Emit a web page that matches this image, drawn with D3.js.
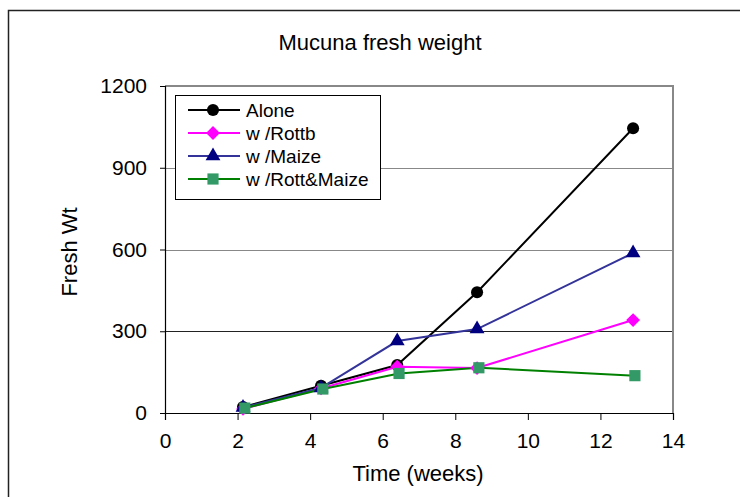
<!DOCTYPE html>
<html><head><meta charset="utf-8">
<script src="https://cdn.jsdelivr.net/npm/d3@7"></script>
<style>body{margin:0;background:#fff}svg{display:block;font-family:"Liberation Sans",Arial,sans-serif}</style>
</head><body><svg id="c" width="740" height="497"></svg>
<script>
const title = "Mucuna fresh weight";
const xLabel = "Time (weeks)";
const yLabel = "Fresh Wt";
const xTicks = [0, 2, 4, 6, 8, 10, 12, 14];
const yTicks = [0, 300, 600, 900, 1200];
const weeks = [2.15, 4.3, 6.4, 8.6, 12.9];
const weeksRM = [2.2, 4.35, 6.45, 8.65, 12.95];
const alone = [22, 100, 176, 443, 1045];
const rottb = [15, 90, 170, 165, 341];
const maize = [20, 92, 264, 308, 587];
const rottMaize = [18, 88, 145, 166, 137];
const seriesNames = ["Alone", "w /Rottb", "w /Maize", "w /Rott&Maize"];

const series = [
  {name: seriesNames[0], xs: weeks, ys: alone, line: "#000000", fill: "#000000", sym: d3.symbolCircle, size: 115, rot: 0},
  {name: seriesNames[1], xs: weeks, ys: rottb, line: "#FF00FF", fill: "#FF00FF", sym: d3.symbolSquare, size: 95, rot: 45},
  {name: seriesNames[2], xs: weeks, ys: maize, line: "#333399", fill: "#000080", sym: d3.symbolTriangle, size: 95, rot: 0},
  {name: seriesNames[3], xs: weeksRM, ys: rottMaize, line: "#008000", fill: "#339966", sym: d3.symbolSquare, size: 125, rot: 0}
];

const svg = d3.select("#c");
const L = 165, R = 673, T = 86, B = 413;
const x = d3.scaleLinear().domain([0, 14]).range([L, R]);
const y = d3.scaleLinear().domain([0, 1200]).range([B, T]);
const FONT = "Liberation Sans, Arial, sans-serif";

// outer frame
svg.append("path").attr("d", `M8.5,497 V10.5 H740`).attr("fill", "none").attr("stroke", "#222").attr("stroke-width", 1.5);

// gridlines
svg.append("g").selectAll("line").data(yTicks.filter(v => v > 0 && v < 1200)).join("line")
  .attr("x1", L).attr("x2", R).attr("y1", d => Math.round(y(d)) + 0.5).attr("y2", d => Math.round(y(d)) + 0.5)
  .attr("stroke", d => d === 300 ? "#222" : "#888").attr("stroke-width", 1.2);

// plot border top/right
svg.append("path").attr("d", `M${L},${T} H${R} V${B}`).attr("fill", "none").attr("stroke", "#888").attr("stroke-width", 2);

// axes
const xAxis = d3.axisBottom(x).tickValues(xTicks).tickSize(7).tickPadding(13).tickFormat(d3.format("d"));
const gx = svg.append("g").attr("transform", `translate(0,${B})`).call(xAxis);
gx.select(".domain").attr("stroke", "#000").attr("stroke-width", 1.2);
gx.selectAll(".tick line").attr("stroke", "#000");
gx.selectAll("text").attr("font-size", 21).attr("fill", "#000").attr("font-family", FONT);

const yAxis = d3.axisLeft(y).tickValues(yTicks).tickSize(5).tickPadding(13).tickFormat(d3.format("d"));
const gy = svg.append("g").attr("transform", `translate(${L},0)`).call(yAxis);
gy.select(".domain").attr("stroke", "#000").attr("stroke-width", 1.2);
gy.selectAll(".tick line").attr("stroke", "#000");
gy.selectAll("text").attr("font-size", 21).attr("fill", "#000").attr("font-family", FONT);

// title & axis labels
svg.append("text").attr("x", 380).attr("y", 50).attr("text-anchor", "middle").attr("font-size", 22).text(title);
svg.append("text").attr("x", 418).attr("y", 481).attr("text-anchor", "middle").attr("font-size", 22).text(xLabel);
svg.append("text").attr("transform", `translate(77,252) rotate(-90)`).attr("text-anchor", "middle").attr("font-size", 22).text(yLabel);

// series
const line = d3.line().x(d => x(d[0])).y(d => y(d[1]));
series.forEach(s => {
  const pts = s.xs.map((v, i) => [v, s.ys[i]]);
  svg.append("path").datum(pts).attr("d", line).attr("fill", "none").attr("stroke", s.line).attr("stroke-width", 2);
});
series.forEach(s => {
  const pts = s.xs.map((v, i) => [v, s.ys[i]]);
  svg.append("g").selectAll("path").data(pts).join("path")
    .attr("transform", d => `translate(${x(d[0])},${y(d[1])}) rotate(${s.rot})`)
    .attr("d", d3.symbol().type(s.sym).size(s.size)).attr("fill", s.fill);
});

// legend
const lg = svg.append("g");
lg.append("rect").attr("x", 175.5).attr("y", 95.5).attr("width", 205).attr("height", 104).attr("fill", "#fff").attr("stroke", "#000").attr("stroke-width", 1);
series.forEach((s, i) => {
  const yy = 110 + i * 23;
  lg.append("line").attr("x1", 188).attr("x2", 240).attr("y1", yy).attr("y2", yy).attr("stroke", s.line).attr("stroke-width", 2);
  lg.append("path").attr("transform", `translate(213,${yy}) rotate(${s.rot})`).attr("d", d3.symbol().type(s.sym).size(s.size)).attr("fill", s.fill);
  lg.append("text").attr("x", 246).attr("y", yy + 7).attr("font-size", 19).text(s.name);
});
</script></body></html>
